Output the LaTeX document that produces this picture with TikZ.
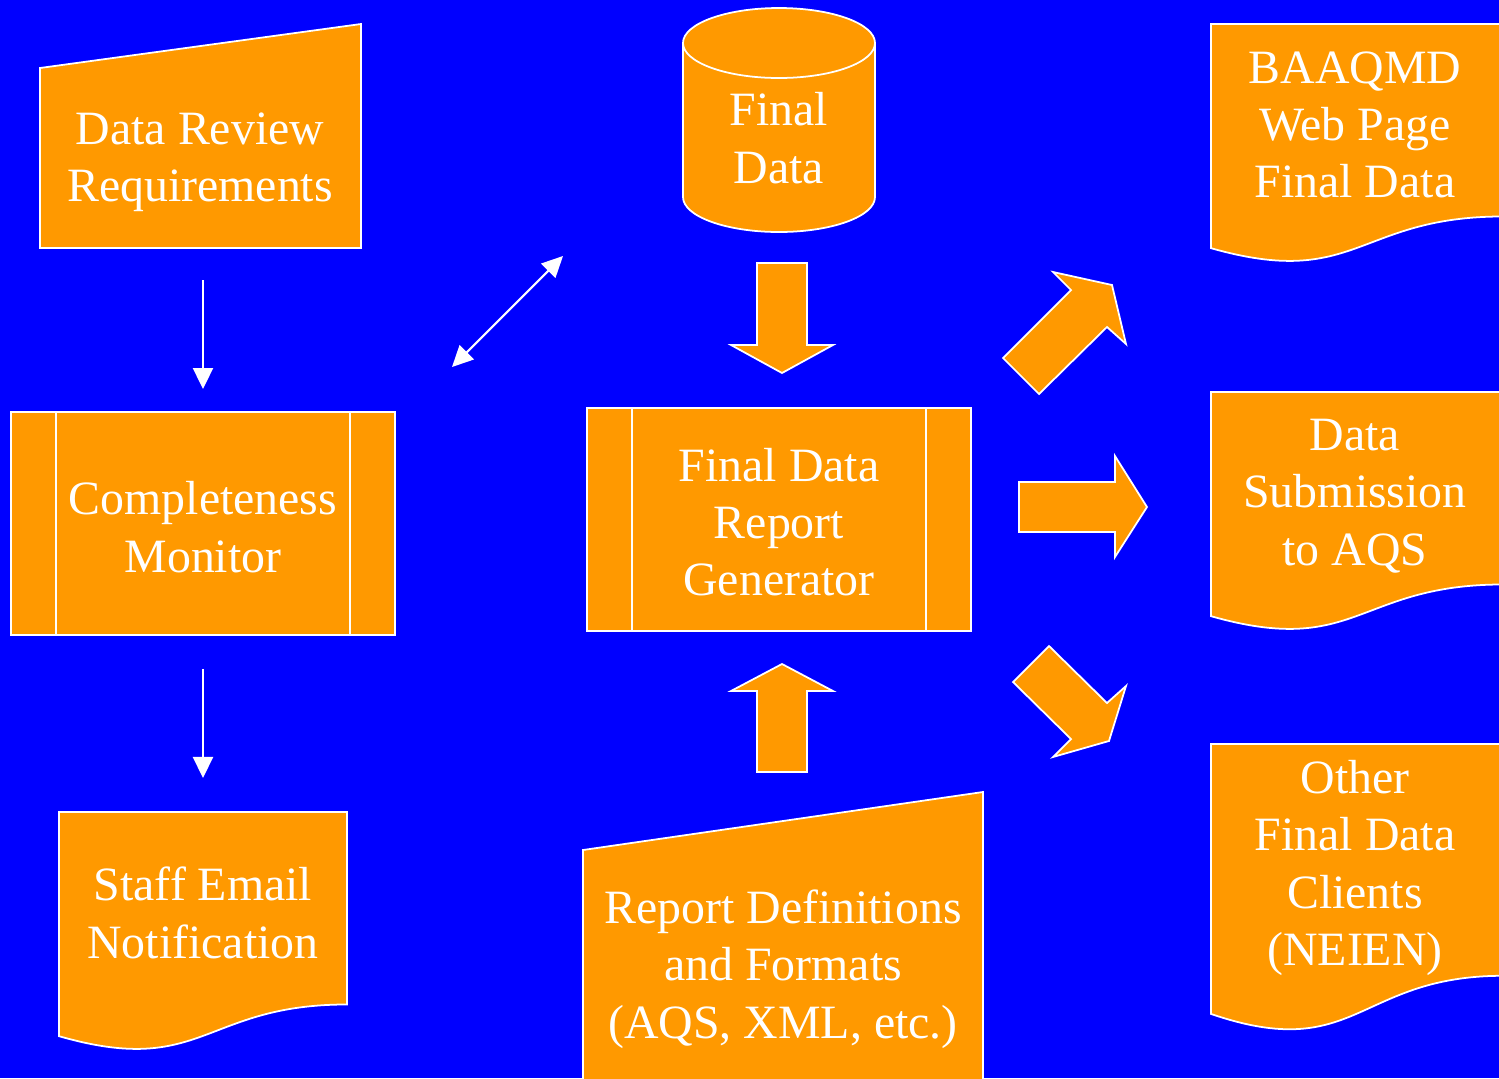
\documentclass[tikz,border=0pt]{standalone}
\usepackage{fontspec}
\setmainfont{Liberation Serif}
\usepackage{tikz}
\usetikzlibrary{arrows.meta}
\definecolor{slideblue}{RGB}{0,0,255}
\definecolor{boxorange}{RGB}{255,153,0}
\tikzstyle{shape box}=[draw=white, line width=0.5pt, fill=boxorange
%,line join=round
]
\tikzstyle{process}=[shape box, rectangle, inner sep=0pt
,minimum width=3.84cm
,minimum height=2.23cm
]
\tikzstyle{label text}=[text=white, align=center, inner sep=0pt, font=\fontsize{13.6}{16.3}\selectfont]
\tikzstyle{flow}=[draw=white, line width=0.6pt, -{Triangle[length=0.21cm,width=0.2cm]}]
\tikzstyle{both flow}=[flow, {Triangle[length=0.21cm,width=0.2cm]}-{Triangle[length=0.21cm,width=0.2cm]}]
\tikzstyle{block arrow}=[shape box]

\begin{document}
\begin{tikzpicture}[x=0.01cm,y=-0.01cm]
    \useasboundingbox (0,0) rectangle (1499,1078);
    \clip (0,0) rectangle (1499,1078);
    \fill[slideblue] (0,0) rectangle (1499,1078);

    % Manual input sheets
    \path[shape box] (40,68) -- (361,24) -- (361,248) -- (40,248) -- cycle;
    \path[shape box] (583,850) -- (983,792) -- (983,1090) -- (583,1090) -- cycle;

    % Documents with wavy bottom
    \foreach \x/\y/\w/\h in {59/812/288/240, 1211/24/292/240, 1211/392/292/240, 1211/744/292/289}
        \path[shape box] (\x,\y) -- ({\x+\w},\y) -- ({\x+\w},{\y+0.802*\h})
            .. controls ({\x+0.5*\w},{\y+0.802*\h}) and ({\x+0.5*\w},{\y+1.107*\h}) .. (\x,{\y+0.934*\h}) -- cycle;

    % Final data store
    \path[shape box] (683,43) -- (683,197) .. controls (683,216.3) and (726,232) .. (779,232)
        .. controls (832,232) and (875,216.3) .. (875,197) -- (875,43)
        .. controls (875,23.7) and (832,8) .. (779,8) .. controls (726,8) and (683,23.7) .. (683,43) -- cycle;
    \draw[white, line width=0.5pt] (683,43) .. controls (683,62.3) and (726,78) .. (779,78)
        .. controls (832,78) and (875,62.3) .. (875,43);

    % Predefined processes
    \node[process] (mon) at (203,523.5) {};
    \node[process] (gen) at (779,519.5) {};
    \foreach \name in {mon, gen}{
        \draw[white, line width=0.5pt] ([xshift=0.46cm]\name.north west) -- ([xshift=0.46cm]\name.south west);
        \draw[white, line width=0.5pt] ([xshift=-0.46cm]\name.north east) -- ([xshift=-0.46cm]\name.south east);
    }

    % Texts
    \foreach \x/\y/\name/\txt in {200/162/req/{Data Review\\Requirements}, 203/527/montext/{Completeness\\Monitor},
        203/913/staff/{Staff Email\\Notification}, 779/138/final/{Final\\Data},
        779/522/gentext/{Final Data\\Report\\Generator}, 783/969/rdef/{Report Definitions\\and Formats\\(AQS, XML, etc.)},
        1355/125/web/{BAAQMD\\Web Page\\Final Data}, 1355/496/aqs/{Data\\Submission\\to AQS},
        1355/868/other/{Other\\Final Data\\Clients\\(NEIEN)}}
        \node[label text] (\name) at (\x,\y) {\txt};

    % Block arrows
    \path[block arrow] (757,263) -- (807,263) -- (807,345) -- (833,345) -- (782,373) -- (731,345) -- (757,345) -- cycle;
    \path[block arrow] (757,772) -- (807,772) -- (807,691) -- (833,691) -- (782,664) -- (731,691) -- (757,691) -- cycle;
    \path[block arrow] (1019,482) -- (1115,482) -- (1115,456) -- (1147,507) -- (1115,557) -- (1115,532) -- (1019,532) -- cycle;
    \path[block arrow] (1003,358) -- (1071,290) -- (1053,272) -- (1112,285) -- (1126,344) -- (1107,327) -- (1039,394) -- cycle;
    \path[block arrow] (1013,682) -- (1049,646) -- (1107,703) -- (1126,686) -- (1109,741) -- (1053,757) -- (1071,739) -- cycle;

    % Thin connectors
    \coordinate (reqout) at (203,280);
    \coordinate (staffin) at (203,778);
    \coordinate (linkA) at (452,367);
    \coordinate (linkB) at (563,256);
    \draw[flow, shorten >=0.22cm] (reqout) -- (mon.north);
    \draw[flow, shorten <=0.33cm] (mon.south) -- (staffin);
    \draw[both flow] (linkA) -- (linkB);
\end{tikzpicture}
\end{document}
